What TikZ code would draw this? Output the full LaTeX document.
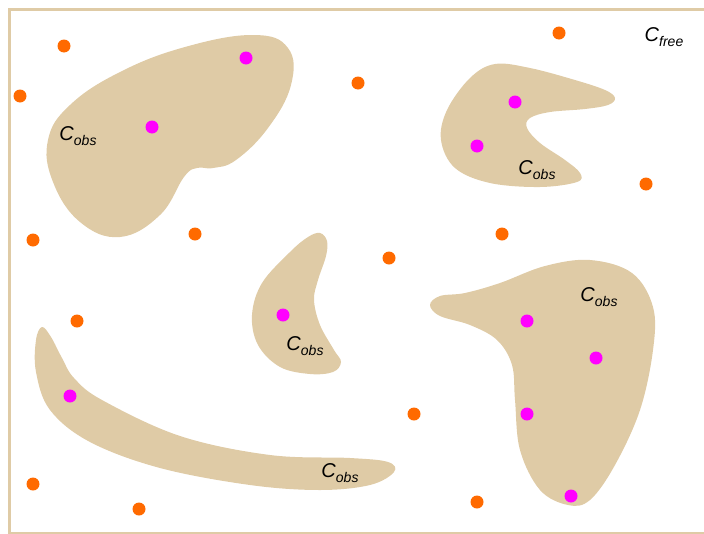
\documentclass[tikz,border=0pt]{standalone}
\usepackage{fontspec}
\setmainfont{Liberation Sans}
\definecolor{tan}{HTML}{DFCBA6}
\definecolor{orng}{HTML}{FF6A00}
\definecolor{mgnt}{HTML}{FF00FF}
\newcommand\cspace[1]{{\fontsize{20}{20}\selectfont\itshape C}\raisebox{-4.5pt}{\fontsize{14}{14}\selectfont\itshape #1}}
\begin{document}
\begin{tikzpicture}[x=1pt,y=-1pt,
  blob/.style={fill=tan,draw=none},
  free/.style={circle,fill=orng,minimum size=13pt,inner sep=0pt},
  occ/.style={circle,fill=mgnt,minimum size=13pt,inner sep=0pt},
  lbl/.style={inner sep=0pt,text=black}]
\useasboundingbox (0,0) rectangle (704,533);
\draw[tan,line width=3pt] (9.5,9.5) rectangle (712,533);
% obstacles
\fill[blob] plot[smooth cycle,tension=0.7] coordinates {(253,35) (288,48) (291,85) (268,128) (236,160) (213,168) (197,168) (184,177) (160,215) (120,237) (80,222) (53,182) (48,140) (70,105) (120,72) (185,47)};
\fill[blob] plot[smooth cycle,tension=0.6] coordinates {(495,64) (530,68) (575,80) (605,90) (615,98) (608,105) (585,109) (550,112) (530,118) (527,128) (540,143) (565,160) (580,173) (577,182) (540,187) (490,183) (455,168) (441,140) (447,110) (470,78)};
\fill[blob] plot[smooth cycle,tension=0.6] coordinates {(320,233) (327,241) (326,256) (318,280) (314,300) (320,325) (334,350) (341,362) (333,372) (310,374) (280,367) (258,345) (252,315) (262,283) (290,252) (308,237)};
\fill[blob] plot[smooth cycle,tension=0.6] coordinates {(42,327) (51,337) (62,358) (74,378) (102,400) (180,436) (270,455) (350,458) (388,462) (394,472) (370,485) (320,490) (250,485) (160,468) (90,442) (50,410) (36,372) (36,340)};
\fill[blob] plot[smooth cycle,tension=0.6] coordinates {(430,305) (440,296) (465,293) (500,283) (545,266) (590,260) (632,273) (653,307) (653,350) (640,410) (615,465) (590,500) (568,505) (540,490) (520,450) (515,400) (512,365) (497,340) (470,325) (440,316)};
% labels
\node[lbl] (o1) at (78,136) {\cspace{obs}};
\node[lbl] (o2) at (537,170) {\cspace{obs}};
\node[lbl] (o3) at (305,346) {\cspace{obs}};
\node[lbl] (o4) at (340,473) {\cspace{obs}};
\node[lbl] (o5) at (599,297) {\cspace{obs}};
\node[lbl] (fr) at (664,37) {\cspace{free}};
% free samples
\foreach \n/\p in {f1/{(64,46)},f2/{(20,96)},f3/{(358,83)},f4/{(559,33)},f5/{(646,184)},f6/{(33,240)},f7/{(195,234)},f8/{(389,258)},f9/{(502,234)},f10/{(77,321)},f11/{(414,414)},f12/{(33,484)},f13/{(139,509)},f14/{(477,502)}}
  \node[free] (\n) at \p {};
% colliding samples
\foreach \n/\p in {m1/{(246,58)},m2/{(152,127)},m3/{(515,102)},m4/{(477,146)},m5/{(283,315)},m6/{(70,396)},m7/{(527,321)},m8/{(596,358)},m9/{(527,414)},m10/{(571,496)}}
  \node[occ] (\n) at \p {};
\end{tikzpicture}
\end{document}
